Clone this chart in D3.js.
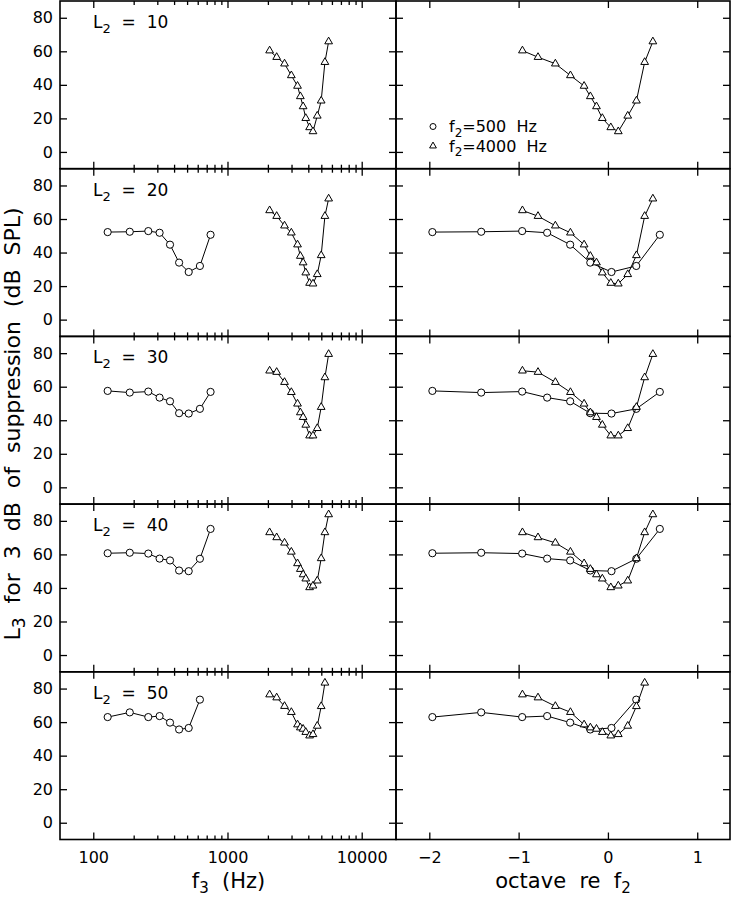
<!DOCTYPE html>
<html><head><meta charset="utf-8">
<script src="https://cdn.jsdelivr.net/npm/d3@7"></script>
<style>
body{margin:0;background:#fff}
svg text{font-family:"DejaVu Sans",sans-serif;fill:#000}
</style>
</head><body>
<svg id="c" width="732" height="897"></svg>
<script>
// ---------------- data ----------------
const levelsL2 = [10, 20, 30, 40, 50];
const f2Values = [500, 4000];
const legendLabels = ["500", "4000"];
// probe (f3) frequencies in Hz
const f3Circle = [128, 187, 257, 312, 373, 436, 514, 623, 748];
const f3Triangle = [2060, 2325, 2660, 2990, 3325, 3490, 3660, 3830, 4090, 4335, 4665, 4990, 5320, 5670];
// L3 (dB SPL) for f2 = 500 Hz, one list per L2 level
const l3Circle10 = [];
const l3Circle20 = [52.2, 52.4, 52.8, 51.8, 44.7, 34.0, 28.4, 32.0, 50.6];
const l3Circle30 = [57.5, 56.5, 57.1, 53.5, 51.3, 44.2, 44.0, 46.8, 56.9];
const l3Circle40 = [60.7, 61.0, 60.5, 57.5, 56.4, 50.4, 50.0, 57.4, 75.2];
const l3Circle50 = [63.0, 65.8, 63.0, 63.6, 59.7, 55.6, 56.5, 73.4];
// L3 (dB SPL) for f2 = 4000 Hz
const l3Tri10 = [60.4, 56.5, 52.6, 45.6, 39.3, 33.1, 27.1, 20.1, 14.6, 12.2, 21.5, 30.5, 53.5, 65.8];
const l3Tri20 = [65.1, 61.7, 56.0, 51.8, 44.7, 37.9, 34.0, 28.0, 21.8, 21.4, 27.0, 38.3, 61.7, 72.1];
const l3Tri30 = [69.5, 68.7, 62.7, 56.7, 49.8, 44.6, 41.8, 37.2, 30.8, 30.8, 35.2, 47.8, 65.5, 79.4];
const l3Tri40 = [73.1, 70.1, 66.9, 61.5, 54.6, 51.2, 48.0, 45.5, 40.3, 41.3, 44.3, 57.6, 73.1, 83.8];
const l3Tri50 = [76.4, 74.6, 69.5, 65.9, 58.5, 56.7, 55.9, 54.0, 51.9, 52.7, 57.7, 69.4, 83.4];
const l3CircleRows = [l3Circle10, l3Circle20, l3Circle30, l3Circle40, l3Circle50];
const l3TriRows = [l3Tri10, l3Tri20, l3Tri30, l3Tri40, l3Tri50];
// ticks
const yTicks = [0, 20, 40, 60, 80];
const freqTicks = [100, 1000, 10000];
const freqMinorTicks = [200, 300, 400, 500, 600, 700, 800, 900, 2000, 3000, 4000, 5000, 6000, 7000, 8000, 9000];
const octTicks = [-2, -1, 0, 1];

// ---------------- layout ----------------
const svg = d3.select("#c");
const leftX0 = 60, midX = 396, rightX1 = 730;
const top0 = 1, bottom = 839.5, rowH = (bottom - top0) / 5;
const xLog = d3.scaleLog().domain([56.5, 18010]).range([leftX0, midX]);
const xOct = d3.scaleLinear().domain([-2.373, 1.367]).range([midX, rightX1]);

const majorLen = 7, minorLen = 4;

function styleAxis(g, fs) {
  g.attr("font-family", null).attr("font-size", null);
  g.selectAll(".domain").remove();
  g.selectAll("line").attr("stroke", "#000").attr("stroke-width", 1.3);
  g.selectAll("text").style("font-size", fs + "px").style("font-family", '"DejaVu Sans",sans-serif');
}

levelsL2.forEach((L2, i) => {
  const yTop = top0 + i * rowH, yBot = top0 + (i + 1) * rowH;
  const y = d3.scaleLinear().domain([-10, 90]).range([yBot, yTop]);
  const isLast = i === levelsL2.length - 1;

  // y axes (inward ticks)
  svg.append("g").attr("transform", `translate(${leftX0},0)`)
    .call(d3.axisLeft(y).tickValues(yTicks).tickSize(-majorLen).tickSizeOuter(0).tickPadding(7).tickFormat(d3.format("d")))
    .call(g => styleAxis(g, 16));
  svg.append("g").attr("transform", `translate(${midX},0)`)
    .call(d3.axisRight(y).tickValues(yTicks).tickSize(-majorLen).tickSizeOuter(0).tickFormat(""))
    .call(g => styleAxis(g, 16));
  svg.append("g").attr("transform", `translate(${midX},0)`)
    .call(d3.axisLeft(y).tickValues(yTicks).tickSize(-majorLen).tickSizeOuter(0).tickFormat(""))
    .call(g => styleAxis(g, 16));
  svg.append("g").attr("transform", `translate(${rightX1},0)`)
    .call(d3.axisRight(y).tickValues(yTicks).tickSize(-majorLen).tickSizeOuter(0).tickFormat(""))
    .call(g => styleAxis(g, 16));

  // x axes: top (no labels), bottom (labels only on last row)
  [[d3.axisTop, yTop, false], [d3.axisBottom, yBot, isLast]].forEach(([ax, yy, lab]) => {
    svg.append("g").attr("transform", `translate(0,${yy})`)
      .call(ax(xLog).tickValues(freqTicks).tickSize(-majorLen).tickSizeOuter(0).tickPadding(12)
        .tickFormat(lab ? d3.format("d") : ""))
      .call(g => styleAxis(g, 16));
    svg.append("g").attr("transform", `translate(0,${yy})`)
      .call(ax(xLog).tickValues(freqMinorTicks).tickSize(-minorLen).tickSizeOuter(0).tickFormat(""))
      .call(g => styleAxis(g, 16));
    svg.append("g").attr("transform", `translate(0,${yy})`)
      .call(ax(xOct).tickValues(octTicks).tickSize(-majorLen).tickSizeOuter(0).tickPadding(12)
        .tickFormat(lab ? (d => d < 0 ? "\u2212" + Math.abs(d) : String(d)) : ""))
      .call(g => styleAxis(g, 16));
  });

  // panel borders
  svg.append("rect").attr("x", leftX0).attr("y", yTop).attr("width", midX - leftX0).attr("height", rowH)
    .attr("fill", "none").attr("stroke", "#000").attr("stroke-width", 1.6);
  svg.append("rect").attr("x", midX).attr("y", yTop).attr("width", rightX1 - midX).attr("height", rowH)
    .attr("fill", "none").attr("stroke", "#000").attr("stroke-width", 1.6);

  // L2 label
  const t = svg.append("text").attr("x", 93).attr("y", yTop + 27).style("font-size", "17px").style("white-space", "pre");
  t.append("tspan").text("L");
  t.append("tspan").attr("dy", 5).style("font-size", "13px").text("2");
  t.append("tspan").attr("dy", -5).text("  =  " + L2);

  // data
  const series = [
    {f: f3Circle, vals: l3CircleRows[i], f2: f2Values[0], shape: "circle"},
    {f: f3Triangle, vals: l3TriRows[i], f2: f2Values[1], shape: "tri"}
  ];
  series.forEach(s => {
    if (!s.vals.length) return;
    const pts = s.vals.map((v, k) => ({hz: s.f[k], oct: Math.log2(s.f[k] / s.f2), v}));
    [[d => xLog(d.hz)], [d => xOct(d.oct)]].forEach(([xf]) => {
      svg.append("path").datum(pts)
        .attr("d", d3.line().x(xf).y(d => y(d.v)))
        .attr("fill", "none").attr("stroke", "#000").attr("stroke-width", 1);
      if (s.shape === "circle") {
        svg.append("g").selectAll("circle").data(pts).join("circle")
          .attr("cx", xf).attr("cy", d => y(d.v)).attr("r", 3.6)
          .attr("fill", "#fff").attr("stroke", "#000").attr("stroke-width", 1);
      } else {
        svg.append("g").selectAll("path").data(pts).join("path")
          .attr("d", d3.symbol(d3.symbolTriangle, 26))
          .attr("transform", d => `translate(${xf(d)},${y(d.v)})`)
          .attr("fill", "#fff").attr("stroke", "#000").attr("stroke-width", 1);
      }
    });
  });

  // legend in first row right panel
  if (i === 0) {
    const lg = [{shape: "circle", yy: 126.5, lab: legendLabels[0]}, {shape: "tri", yy: 146, lab: legendLabels[1]}];
    lg.forEach(l => {
      if (l.shape === "circle") {
        svg.append("circle").attr("cx", 433).attr("cy", l.yy).attr("r", 3)
          .attr("fill", "#fff").attr("stroke", "#000").attr("stroke-width", 1);
      } else {
        svg.append("path").attr("d", d3.symbol(d3.symbolTriangle, 20))
          .attr("transform", `translate(433,${l.yy})`)
          .attr("fill", "#fff").attr("stroke", "#000").attr("stroke-width", 1);
      }
      const lt = svg.append("text").attr("x", 449).attr("y", l.yy + 5.5).style("font-size", "16px").style("white-space", "pre");
      lt.append("tspan").text("f");
      lt.append("tspan").attr("dy", 4.5).style("font-size", "12px").text("2");
      lt.append("tspan").attr("dy", -4.5).text("=" + l.lab + "  Hz");
    });
  }
});

// axis titles
const xt1 = svg.append("text").attr("x", 228.5).attr("y", 888).attr("text-anchor", "middle")
  .style("font-size", "21px").style("white-space", "pre");
xt1.append("tspan").text("f");
xt1.append("tspan").attr("dy", 4.5).style("font-size", "15px").text("3");
xt1.append("tspan").attr("dy", -4.5).text("  (Hz)");

const xt2 = svg.append("text").attr("x", 563).attr("y", 888).attr("text-anchor", "middle")
  .style("font-size", "21px").style("white-space", "pre");
xt2.append("tspan").text("octave  re  f");
xt2.append("tspan").attr("dy", 4.5).style("font-size", "15px").text("2");

const yt = svg.append("text").attr("transform", "translate(20,424) rotate(-90)").attr("text-anchor", "middle")
  .style("font-size", "22px").style("white-space", "pre");
yt.append("tspan").text("L");
yt.append("tspan").attr("dy", 5).style("font-size", "17px").text("3");
yt.append("tspan").attr("dy", -5).text("  for  3  dB  of  suppression  (dB  SPL)");
</script>
</body></html>
